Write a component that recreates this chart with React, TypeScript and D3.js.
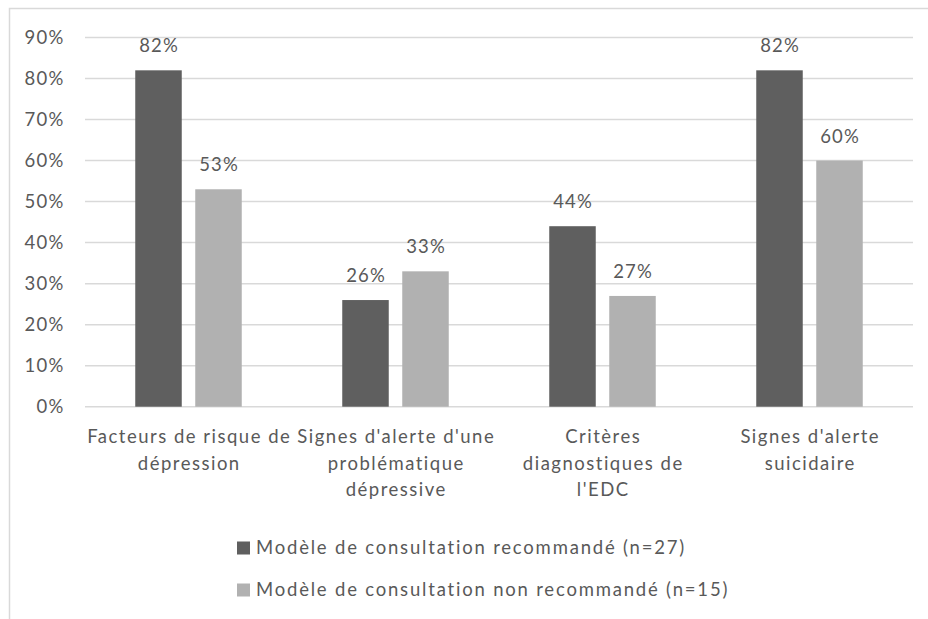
import React from "react";
import * as d3 from "d3";

const categories: string[][] = [
  ["Facteurs de risque de", "dépression"],
  ["Signes d'alerte d'une", "problématique", "dépressive"],
  ["Critères", "diagnostiques de", "l'EDC"],
  ["Signes d'alerte", "suicidaire"],
];
const seriesNames = [
  "Modèle de consultation recommandé (n=27)",
  "Modèle de consultation non recommandé (n=15)",
];
const recommande = [0.82, 0.26, 0.44, 0.82];
const nonRecommande = [0.53, 0.33, 0.27, 0.6];
const yTicks = [0, 0.1, 0.2, 0.3, 0.4, 0.5, 0.6, 0.7, 0.8, 0.9];

const colors = ["#5f5f5f", "#b1b1b1"];
const textColor = "#595959";
const gridColor = "#d9d9d9";
const font = "Lato, 'Open Sans', sans-serif";
const fs = 18.5;

export default function App() {
  const W = 928;
  const H = 619;
  const catKeys = categories.map((_, i) => String(i));
  const x0 = d3.scaleBand<string>().domain(catKeys).range([85, 913]).paddingInner(0).paddingOuter(0);
  const x1 = d3
    .scaleBand<string>()
    .domain(["0", "1"])
    .range([0, x0.bandwidth()])
    .paddingInner(0.225)
    .paddingOuter(0.8375);
  const y = d3.scaleLinear().domain([0, 0.9]).range([406.7, 37.5]);
  const fmt = d3.format(".0%");
  const series = [recommande, nonRecommande];

  return (
    <svg
      width={W}
      height={H}
      style={{ position: "absolute", left: 0, top: 0, background: "#fff" }}
      fontFamily={font}
    >
      <rect x={0} y={0} width={W} height={H} fill="#fff" />
      <rect x={9.5} y={8.5} width={1200} height={1200} fill="none" stroke={gridColor} strokeWidth={1.5} />
      {yTicks.map((t) => (
        <g key={t}>
          <line x1={85} x2={913} y1={y(t)} y2={y(t)} stroke={gridColor} strokeWidth={1.5} />
          <text
            x={64.5}
            y={y(t)}
            dy="0.35em"
            textAnchor="end"
            fontSize={fs}
            letterSpacing={1.2}
            fill={textColor}
          >
            {fmt(t)}
          </text>
        </g>
      ))}
      {series.map((vals, si) =>
        vals.map((v, ci) => {
          const bx = (x0(String(ci)) || 0) + (x1(String(si)) || 0);
          const bw = x1.bandwidth();
          return (
            <g key={`${si}-${ci}`}>
              <rect x={bx} y={y(v)} width={bw} height={y(0) - y(v)} fill={colors[si]} />
              <text
                x={bx + bw / 2 + 0.6}
                y={y(v) - 18}
                textAnchor="middle"
                fontSize={fs}
                letterSpacing={1.2}
                fill={textColor}
              >
                {fmt(v)}
              </text>
            </g>
          );
        })
      )}
      {categories.map((lines, ci) => {
        const cx = (x0(String(ci)) || 0) + x0.bandwidth() / 2 + 0.75;
        return (
          <text
            key={ci}
            x={cx}
            y={443}
            textAnchor="middle"
            fontSize={fs}
            letterSpacing={1.5}
            fill={textColor}
          >
            {lines.map((l, li) => (
              <tspan key={li} x={cx} dy={li === 0 ? 0 : 26.5}>
                {l}
              </tspan>
            ))}
          </text>
        );
      })}
      {seriesNames.map((name, si) => {
        const cy = 548 + si * 42;
        return (
          <g key={name}>
            <rect x={237} y={cy - 6.5} width={13} height={13} fill={colors[si]} />
            <text x={256} y={cy} dy="0.35em" fontSize={fs} letterSpacing={1.8} fill={textColor}>
              {name}
            </text>
          </g>
        );
      })}
    </svg>
  );
}
